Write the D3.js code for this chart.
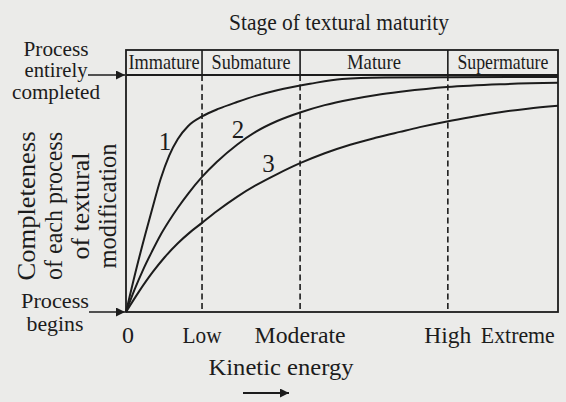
<!DOCTYPE html>
<html>
<head>
<meta charset="utf-8">
<script src="https://cdn.jsdelivr.net/npm/d3@7"></script>
<style>
  html, body { margin: 0; padding: 0; background: #ebebe9; }
  svg { display: block; }
  text { font-family: "Liberation Serif", "DejaVu Serif", serif; fill: #1c1c1c; }
</style>
</head>
<body>
<svg id="chart" width="566" height="402"></svg>
<script>
// ---- data ----
const energyTicks = ["0", "Low", "Moderate", "High", "Extreme"];
const energyValues = [0, 17.6, 40.3, 74.5, 90.7];
const stages = ["Immature", "Submature", "Mature", "Supermature"];
const stageBounds = [0, 17.6, 40.3, 74.5, 100];

const curve1X = [0, 2.5, 4.5, 6, 8, 10, 12, 14.4, 17.6, 21.5, 25.7, 30, 35, 42.6, 50, 60, 75, 100];
const curve1Y = [0, 19, 33, 43, 56, 66, 73, 78.5, 82.5, 85.8, 88.6, 91.2, 93.6, 96.3, 98.3, 98.9, 99.1, 99.2];
const curve2X = [0, 2, 4, 6, 8, 10, 12, 14.5, 17.6, 21, 25.7, 30, 35, 40.3, 46, 52, 58, 64, 74.3, 86.6, 100];
const curve2Y = [0, 9.5, 18, 25.5, 32.5, 38.5, 44, 50.2, 57, 63.3, 70.6, 76, 80.6, 84.2, 87.3, 89.7, 91.6, 93, 94.9, 96.1, 96.7];
const curve3X = [0, 3, 6.25, 9, 12, 14.8, 17.6, 21, 25.7, 30, 35, 40.3, 46, 51.9, 58, 63.4, 68, 74.3, 80, 86.6, 93, 100];
const curve3Y = [0, 8.6, 17, 23.2, 29, 33.6, 37.6, 42.5, 48.6, 53.4, 58.2, 62.8, 67, 70.6, 73.6, 76, 78, 80.4, 82.3, 84.3, 85.8, 87];
const curveNames = ["1", "2", "3"];
const curveLabelX = [9.0, 25.9, 33.0];
const curveLabelY = [68.4, 73.4, 59.1];

// ---- layout ----
const svg = d3.select("#chart");
const ink = "#1c1c1c";
const x = d3.scaleLinear().domain([0, 100]).range([126, 558]);
const y = d3.scaleLinear().domain([0, 100]).range([312, 75]);
const headerH = 25;

function txt(sel, len) {
  return sel.attr("textLength", len).attr("lengthAdjust", "spacingAndGlyphs");
}

const defs = svg.append("defs");
defs.append("marker").attr("id", "arr").attr("viewBox", "0 0 10 10")
  .attr("refX", 10).attr("refY", 5).attr("markerWidth", 10).attr("markerHeight", 9)
  .attr("markerUnits", "userSpaceOnUse").attr("orient", "auto")
  .append("path").attr("d", "M0,0 L10,5 L0,10 Z").attr("fill", ink);

// title
txt(svg.append("text").attr("x", 339).attr("y", 30).attr("text-anchor", "middle")
  .attr("font-size", 24).text("Stage of textural maturity"), 220);

// frame + header band
const hTop = y(100) - headerH;
svg.append("rect").attr("x", x(0)).attr("y", hTop)
  .attr("width", x(100) - x(0)).attr("height", y(0) - hTop)
  .attr("fill", "none").attr("stroke", ink).attr("stroke-width", 1.8);
svg.append("line").attr("x1", x(0)).attr("x2", x(100)).attr("y1", y(100)).attr("y2", y(100))
  .attr("stroke", ink).attr("stroke-width", 1.8);

const inner = stageBounds.slice(1, -1);
svg.selectAll(".hdiv").data(inner).join("line")
  .attr("x1", d => x(d)).attr("x2", d => x(d)).attr("y1", hTop).attr("y2", y(100))
  .attr("stroke", ink).attr("stroke-width", 1.6);
svg.selectAll(".ddiv").data(inner).join("line")
  .attr("x1", d => x(d)).attr("x2", d => x(d)).attr("y1", y(100)).attr("y2", y(0))
  .attr("stroke", ink).attr("stroke-width", 1.6).attr("stroke-dasharray", "6,3.5");

const stageW = [71, 79, 54, 91];
svg.selectAll(".stage").data(stages).join("text")
  .attr("x", (d, i) => (x(stageBounds[i]) + x(stageBounds[i + 1])) / 2)
  .attr("y", y(100) - 6).attr("text-anchor", "middle").attr("font-size", 21)
  .attr("textLength", (d, i) => stageW[i]).attr("lengthAdjust", "spacingAndGlyphs")
  .text(d => d);

// curves
const line = d3.line().x(d => x(d[0])).y(d => y(d[1])).curve(d3.curveMonotoneX);
const curves = [[curve1X, curve1Y], [curve2X, curve2Y], [curve3X, curve3Y]];
svg.selectAll(".curve").data(curves).join("path")
  .attr("d", c => line(c[0].map((v, i) => [v, c[1][i]])))
  .attr("fill", "none").attr("stroke", ink).attr("stroke-width", 2);

svg.selectAll(".clabel").data(curveNames).join("text")
  .attr("x", (d, i) => x(curveLabelX[i])).attr("y", (d, i) => y(curveLabelY[i]))
  .attr("text-anchor", "middle").attr("font-size", 25).text(d => d);

// x tick labels
const tickW = [12, 39, 91, 47, 74];
svg.selectAll(".xt").data(energyTicks).join("text")
  .attr("x", (d, i) => x(energyValues[i]) + (i === 0 ? 2 : 0)).attr("y", 343)
  .attr("text-anchor", "middle").attr("font-size", 24)
  .attr("textLength", (d, i) => tickW[i]).attr("lengthAdjust", "spacingAndGlyphs")
  .text(d => d);

txt(svg.append("text").attr("x", 281).attr("y", 375).attr("text-anchor", "middle")
  .attr("font-size", 24).text("Kinetic energy"), 145);
svg.append("line").attr("x1", 243).attr("x2", 289).attr("y1", 393).attr("y2", 393)
  .attr("stroke", ink).attr("stroke-width", 2).attr("marker-end", "url(#arr)");

// left labels
const topLbl = ["Process", "entirely", "completed"];
const topW = [65, 63, 88];
svg.selectAll(".tl").data(topLbl).join("text")
  .attr("x", 56).attr("y", (d, i) => [56, 77, 99][i])
  .attr("text-anchor", "middle").attr("font-size", 20)
  .attr("textLength", (d, i) => topW[i]).attr("lengthAdjust", "spacingAndGlyphs")
  .text(d => d);
svg.append("line").attr("x1", 88).attr("x2", x(0) - 1).attr("y1", y(100)).attr("y2", y(100))
  .attr("stroke", ink).attr("stroke-width", 1.6).attr("marker-end", "url(#arr)");

const botLbl = ["Process", "begins"];
const botW = [68, 57];
svg.selectAll(".bl").data(botLbl).join("text")
  .attr("x", 55).attr("y", (d, i) => [308, 331][i])
  .attr("text-anchor", "middle").attr("font-size", 21)
  .attr("textLength", (d, i) => botW[i]).attr("lengthAdjust", "spacingAndGlyphs")
  .text(d => d);
svg.append("line").attr("x1", 89).attr("x2", x(0) - 1).attr("y1", y(0)).attr("y2", y(0))
  .attr("stroke", ink).attr("stroke-width", 1.6).attr("marker-end", "url(#arr)");

// y axis label (rotated)
const yLbl = ["Completeness", "of each process", "of textural", "modification"];
const yW = [149, 148, 107, 125];
svg.selectAll(".yl").data(yLbl).join("text")
  .attr("transform", (d, i) => `translate(${[35, 62, 89, 116][i]},206) rotate(-90)`)
  .attr("text-anchor", "middle").attr("font-size", 25)
  .attr("textLength", (d, i) => yW[i]).attr("lengthAdjust", "spacingAndGlyphs")
  .text(d => d);
</script>
</body>
</html>
